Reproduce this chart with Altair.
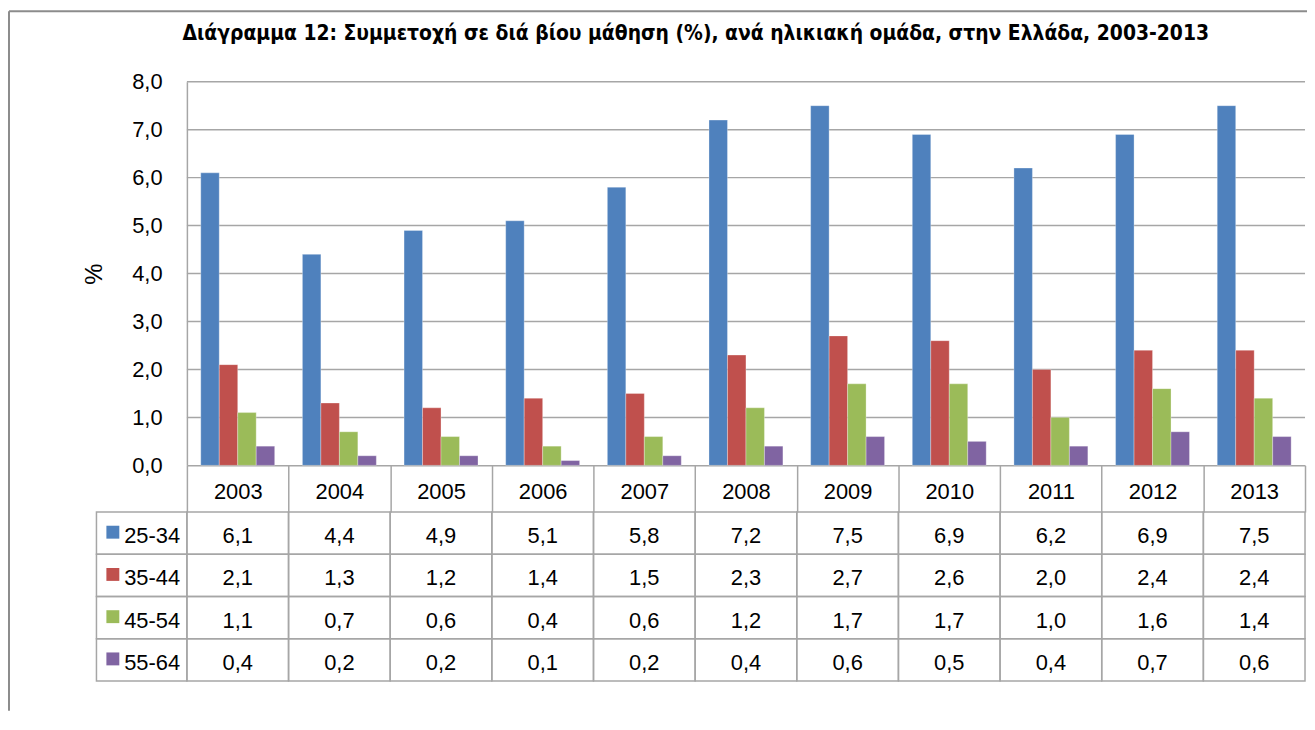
import altair as alt
import pandas as pd

# ---------------- data ----------------
years = ["2003", "2004", "2005", "2006", "2007", "2008", "2009", "2010", "2011", "2012", "2013"]
groups = ["25-34", "35-44", "45-54", "55-64"]
v25_34 = [6.1, 4.4, 4.9, 5.1, 5.8, 7.2, 7.5, 6.9, 6.2, 6.9, 7.5]
v35_44 = [2.1, 1.3, 1.2, 1.4, 1.5, 2.3, 2.7, 2.6, 2.0, 2.4, 2.4]
v45_54 = [1.1, 0.7, 0.6, 0.4, 0.6, 1.2, 1.7, 1.7, 1.0, 1.6, 1.4]
v55_64 = [0.4, 0.2, 0.2, 0.1, 0.2, 0.4, 0.6, 0.5, 0.4, 0.7, 0.6]
y_ticks = [0, 1, 2, 3, 4, 5, 6, 7, 8]
colors = ["#4F81BD", "#C0504D", "#9BBB59", "#8064A2"]
title_text = "Διάγραμμα 12: Συμμετοχή σε διά βίου μάθηση (%), ανά ηλικιακή ομάδα,  στην Ελλάδα, 2003-2013"

records = []
for g, vals in zip(groups, [v25_34, v35_44, v45_54, v55_64]):
    for yr, v in zip(years, vals):
        records.append({"year": yr, "group": g, "value": v})
df = pd.DataFrame(records)
grid_df = pd.DataFrame({"tick": y_ticks[1:]})
one = pd.DataFrame({"k": [0]})

# ---------------- layout (pixels inside the plot area) ----------------
W, H = 1306, 704
X0, X1 = 179, 1304        # year columns
Y0, Y8 = 457, 71          # value 0 and value 8
T0, T1 = 504, 674         # table body rows
LEG_L = 88                # left edge of legend column

FONT = "Liberation Sans, Arial, sans-serif"
TFONT = "Liberation Sans Narrow, Arial Narrow, DejaVu Sans Condensed, Roboto Condensed, Liberation Sans, sans-serif"
GRID = "#a6a6a6"
BORDER = "#8c8c8c"
FMT = "replace(format(datum.value, '.1f'), '.', ',')"

x_scale = alt.Scale(domain=years, range=[X0, X1], paddingInner=0, paddingOuter=0)
x_axis = alt.Axis(
    orient="bottom", offset=-(H - Y0), title=None, grid=False,
    domainColor=GRID, domainWidth=1.5,
    tickBand="extent", tickSize=T0 - Y0, tickColor=GRID, tickWidth=1.5,
    labelFont=FONT, labelFontSize=22, labelColor="black", labelAngle=0,
    labelPadding=-14, labelBaseline="alphabetic",
)
y_scale = alt.Scale(domain=[0, 8], range=[Y0, Y8], nice=False, zero=True)
row_scale = alt.Scale(domain=groups, range=[T0, T1], paddingInner=0, paddingOuter=0)
color_scale = alt.Scale(domain=groups, range=colors)

border_left = alt.Chart(one).mark_rule(color=BORDER, strokeWidth=2).encode(
    x=alt.value(0), y=alt.value(0), y2=alt.value(H))
border_top = alt.Chart(one).mark_rule(color=BORDER, strokeWidth=2).encode(
    y=alt.value(0), x=alt.value(0), x2=alt.value(W))

grid = alt.Chart(grid_df).mark_rule(color=GRID, strokeWidth=1.5).encode(
    y=alt.Y("tick:Q", scale=y_scale, axis=None),
    x=alt.value(X0), x2=alt.value(X1))

bars = alt.Chart(df).mark_bar(stroke="white", strokeWidth=0.6, strokeOpacity=0.5).encode(
    x=alt.X("year:N", scale=x_scale, axis=x_axis),
    xOffset=alt.XOffset("group:N", scale=alt.Scale(domain=groups, paddingOuter=0.75, paddingInner=0)),
    y=alt.Y("value:Q", scale=y_scale, axis=alt.Axis(
        values=y_ticks, offset=-X0, grid=False, ticks=False,
        domainColor=GRID, domainWidth=1.5,
        labelExpr=FMT, labelFont=FONT, labelFontSize=22, labelColor="black", labelPadding=25,
        title="%", titleFont=FONT, titleFontSize=24, titleFontWeight="normal", titleColor="black",
        titleX=-93, titleY=264, titleAngle=270, titleAlign="center", titleBaseline="middle",
    )),
    color=alt.Color("group:N", scale=color_scale, legend=None),
)

cells = alt.Chart(df).mark_rect(fillOpacity=0, stroke=GRID, strokeWidth=1.5).encode(
    x=alt.X("year:N", scale=x_scale, axis=x_axis),
    y=alt.Y("group:N", scale=row_scale, axis=None),
)

leg_cells = alt.Chart(pd.DataFrame({"group": groups})).mark_rect(
    fillOpacity=0, stroke=GRID, strokeWidth=1.5).encode(
    x=alt.value(LEG_L), x2=alt.value(X0),
    y=alt.Y("group:N", scale=row_scale, axis=None),
)

leg_keys = alt.Chart(pd.DataFrame({"group": groups})).mark_square(size=169, opacity=1, yOffset=-1).encode(
    x=alt.value(104.5),
    y=alt.Y("group:N", scale=row_scale, axis=None),
    color=alt.Color("group:N", scale=color_scale, legend=None),
)

leg_labels = alt.Chart(pd.DataFrame({"group": groups})).mark_text(
    font=FONT, fontSize=22, color="black", align="center", baseline="alphabetic", dy=10).encode(
    x=alt.value(144),
    y=alt.Y("group:N", scale=row_scale, axis=None),
    text="group:N",
)

texts = alt.Chart(df).transform_calculate(label=FMT).mark_text(
    font=FONT, fontSize=22, color="black", align="center", baseline="alphabetic", dy=10).encode(
    x=alt.X("year:N", scale=x_scale, axis=x_axis),
    y=alt.Y("group:N", scale=row_scale, axis=None),
    text="label:N",
)

chart = alt.layer(
    border_left, border_top, grid, bars, cells, leg_cells, leg_keys, leg_labels, texts
).resolve_scale(y="independent").properties(
    width=W, height=H,
    background="white",
    autosize=alt.AutoSizeParams(type="none"),
    padding={"left": 1, "top": 1, "right": 0, "bottom": 0},
    title=alt.TitleParams(
        text=title_text, font=TFONT, fontSize=21, fontWeight="bold", color="black",
        anchor="middle", frame="group", offset=-51, baseline="alphabetic", dx=38,
    ),
).configure_view(stroke="transparent")

chart.save("out.html", embed_options={"renderer": "svg", "actions": False})
